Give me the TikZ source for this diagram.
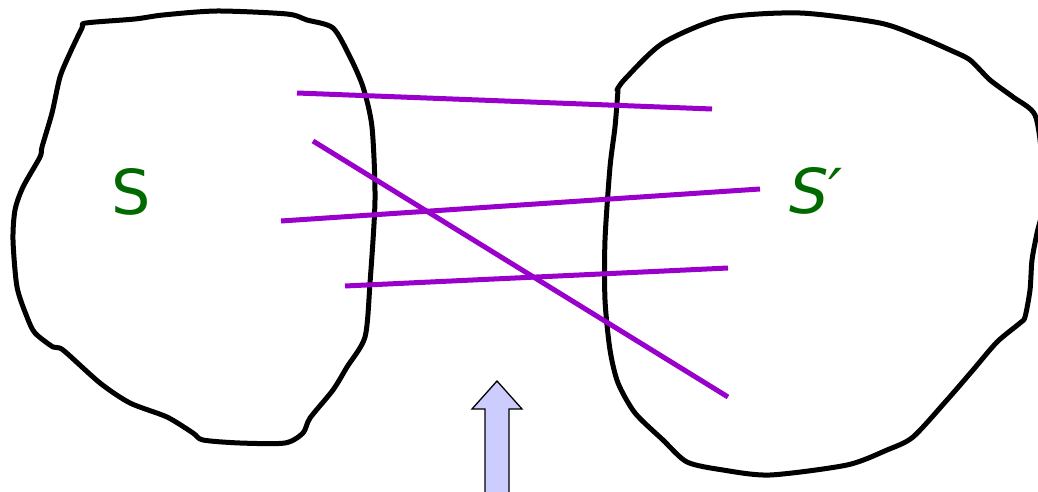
\documentclass[tikz,border=0pt]{standalone}
\usepackage{fontspec}
\setsansfont{DejaVu Sans}

\definecolor{setgreen}{HTML}{006A00}
\definecolor{chordpurple}{HTML}{9900CC}
\definecolor{arrowblue}{HTML}{CCCCFF}

\begin{document}
\begin{tikzpicture}[
  x=1pt, y=-1pt,
  blob/.style={line width=5pt, black, line join=round, line cap=round},
  chord/.style={line width=5pt, chordpurple},
  setlbl/.style={font=\sffamily\fontsize{62}{62}\selectfont, text=setgreen, inner sep=0pt},
  push/.style={fill=arrowblue, draw=black, line width=1.3pt, line join=miter},
]
  \useasboundingbox (0,0) rectangle (1038,492);
  \clip (0,0) rectangle (1038,492);

  % --- Left set S ---
  \draw[blob] plot[smooth cycle, tension=0.45] coordinates {
    (86,23) (135,19) (163,15) (217,11) (287,14) (307,20) (333,28)
    (350,57) (363,87) (372,127) (375,200) (370,283) (365,337)
    (347,367) (333,390) (310,418) (303,433) (285,443) (240,443)
    (203,440) (193,433) (167,417) (130,403) (100,383) (63,350)
    (53,347) (35,333) (27,317) (17,287) (13,240) (15,210) (23,187)
    (40,157) (42,147) (52,113) (60,77) (70,53) (82,28)};
  \node[setlbl] (lblS) at (131,192) {S};

  % --- Right set S' ---
  \draw[blob] plot[smooth, tension=0.45] coordinates {
    (617,90) (625,79) (663,43) (723,18) (800,13) (880,23) (920,37)
    (950,50) (970,60) (990,80) (1013,97) (1035,115) (1042,160)
    (1042,210) (1037,233) (1032,260) (1030,290) (1025,317)
    (1020,323) (997,342) (973,370) (947,400) (913,437) (887,450)
    (847,465) (770,475) (723,470) (687,462) (663,440) (635,413)
    (618,383) (610,350) (605,300) (605,240) (610,167) (615,127)
    (618,90)};
  \node[setlbl, font=\sffamily\itshape\fontsize{62}{62}\selectfont] (lblSp) at (816,191) {S′};

  % --- Chords between the two sets ---
  \draw[chord] (297,93) -- (712,109);
  \draw[chord] (313,141) -- (728,397);
  \draw[chord] (281,221) -- (760,189);
  \draw[chord] (345,286) -- (728,268);

  % --- Upward arrow ---
  \draw[push] (497,381) -- (522,409) -- (509,409) -- (509,500)
    -- (485,500) -- (485,409) -- (472,409) -- cycle;
\end{tikzpicture}
\end{document}
